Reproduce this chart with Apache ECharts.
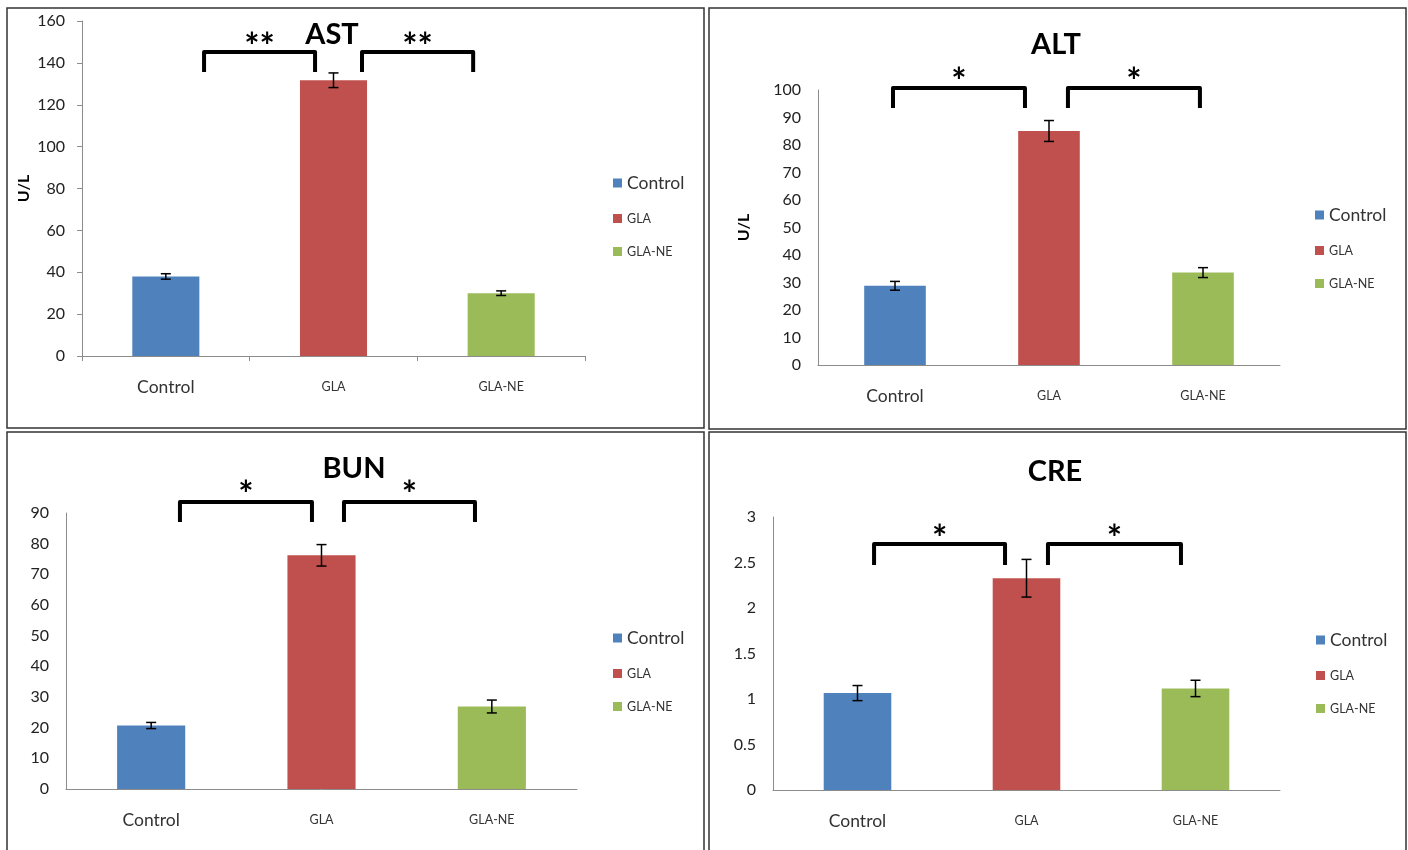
<!DOCTYPE html>
<html><head><meta charset="utf-8">
<script src="https://cdn.jsdelivr.net/npm/echarts/dist/echarts.min.js"></script>
<style>html,body{margin:0;padding:0;background:#fff}#c{width:1408px;height:850px}</style>
</head><body><div id="c"></div>
<script>
// ---- data ----
const categories = ['Control', 'GLA', 'GLA-NE'];
const astValues = [38, 131.7, 30];
const astErrors = [1.3, 3.5, 1.1];
const altValues = [28.8, 85.1, 33.6];
const altErrors = [1.6, 3.8, 1.8];
const bunValues = [20.7, 76.2, 26.9];
const bunErrors = [1.0, 3.5, 2.1];
const creValues = [1.065, 2.327, 1.116];
const creErrors = [0.083, 0.207, 0.09];
const astTicks = [0, 20, 40, 60, 80, 100, 120, 140, 160];
const altTicks = [0, 10, 20, 30, 40, 50, 60, 70, 80, 90, 100];
const bunTicks = [0, 10, 20, 30, 40, 50, 60, 70, 80, 90];
const creTicks = [0, 0.5, 1, 1.5, 2, 2.5, 3];
const astStars = ['**', '**'];
const altStars = ['*', '*'];
const bunStars = ['*', '*'];
const creStars = ['*', '*'];

const colors = ['#4F81BD', '#C0504D', '#9BBB59'];
const FONT = 'Lato, "Open Sans", sans-serif';

const panels = [
  { title: 'AST', values: astValues, errors: astErrors, ticks: astTicks, stars: astStars, yName: 'U/L',
    grid: { left: 82, top: 21, width: 503, height: 335 }, showTicks: true, nameGap: 50,
    titlePos: [332, 35], legendPos: [608, 169], frame: [7, 8, 697, 420],
    brackets: [[0, 0.228, 1, -0.11, 145.2, 135.6, 147.5], [1, 0.17, 2, -0.167, 145.2, 135.6, 147.5]] },
  { title: 'ALT', values: altValues, errors: altErrors, ticks: altTicks, stars: altStars, yName: 'U/L',
    grid: { left: 818, top: 90, width: 462, height: 275 }, showTicks: false, nameGap: 66,
    titlePos: [1056, 45], legendPos: [1310, 201], frame: [709, 8, 697, 421],
    brackets: [[0, -0.013, 1, -0.156, 100.7, 93.5, 102.8], [1, 0.123, 2, -0.02, 100.7, 93.5, 102.8]] },
  { title: 'BUN', values: bunValues, errors: bunErrors, ticks: bunTicks, stars: bunStars, yName: '',
    grid: { left: 66, top: 513, width: 511, height: 276 }, showTicks: false, nameGap: 50,
    titlePos: [354, 469], legendPos: [608, 624], frame: [7, 432, 697, 430],
    brackets: [[0, 0.169, 1, -0.056, 93.6, 87.1, 95.7], [1, 0.132, 2, -0.099, 93.6, 87.1, 95.7]] },
  { title: 'CRE', values: creValues, errors: creErrors, ticks: creTicks, stars: creStars, yName: '',
    grid: { left: 773, top: 517, width: 507, height: 273 }, showTicks: false, nameGap: 50,
    titlePos: [1055, 472], legendPos: [1311, 626], frame: [709, 432, 697, 430],
    brackets: [[0, 0.098, 1, -0.127, 2.703, 2.473, 2.755], [1, 0.127, 2, -0.086, 2.703, 2.473, 2.755]] }
];

const option = {
  animation: false,
  backgroundColor: '#fff',
  grid: [], xAxis: [], yAxis: [], series: [], legend: [], graphic: []
};

const rich = {
  a: { fontSize: 17.5, lineHeight: 18, fontFamily: FONT, color: '#333' },
  b: { fontSize: 12.5, lineHeight: 18, fontFamily: FONT, color: '#333' }
};
const fmt = n => n === 'Control' ? '{a|Control}' : '{b|' + n + '}';

panels.forEach((p, gi) => {
  option.grid.push(Object.assign({ containLabel: false, outerBoundsMode: 'none' }, p.grid));
  option.xAxis.push({
    type: 'category', gridIndex: gi, data: categories,
    axisLine: { show: true, lineStyle: { color: '#8c8c8c', width: 1 } },
    axisTick: { show: p.showTicks, length: 5, lineStyle: { color: '#8c8c8c' } },
    axisLabel: { formatter: fmt, rich: rich, margin: 22, interval: 0 },
    splitLine: { show: false }
  });
  const t = p.ticks;
  option.yAxis.push({
    type: 'value', gridIndex: gi, min: t[0], max: t[t.length - 1], interval: t[1] - t[0],
    name: p.yName, nameLocation: 'middle', nameRotate: 90, nameGap: p.nameGap,
    nameTextStyle: { fontFamily: FONT, fontWeight: 'bold', fontSize: 16, color: '#000' },
    axisLine: { show: true, lineStyle: { color: '#8c8c8c', width: 1 } },
    axisTick: { show: p.showTicks, length: 5, lineStyle: { color: '#8c8c8c' } },
    axisLabel: { fontFamily: FONT, fontSize: 16, color: '#222', margin: 17 },
    splitLine: { show: false }
  });
  categories.forEach((c, ci) => {
    option.series.push({
      type: 'bar', name: c, xAxisIndex: gi, yAxisIndex: gi,
      data: categories.map((_, k) => k === ci ? p.values[k] : '-'),
      barWidth: '40%', barGap: '-100%',
      itemStyle: { color: colors[ci] }, silent: true
    });
  });
  // error bars
  option.series.push({
    type: 'custom', xAxisIndex: gi, yAxisIndex: gi, silent: true, z: 5,
    data: p.values.map((v, i) => [i, v - p.errors[i], v + p.errors[i]]),
    encode: { x: 0, y: [1, 2] },
    renderItem: (params, api) => {
      const x = api.value(0);
      const hi = api.coord([x, api.value(2)]);
      const lo = api.coord([x, api.value(1)]);
      const w = 5;
      const st = { stroke: '#000', lineWidth: 1.5 };
      return { type: 'group', children: [
        { type: 'line', shape: { x1: hi[0], y1: hi[1], x2: lo[0], y2: lo[1] }, style: st },
        { type: 'line', shape: { x1: hi[0] - w, y1: hi[1], x2: hi[0] + w, y2: hi[1] }, style: st },
        { type: 'line', shape: { x1: lo[0] - w, y1: lo[1], x2: lo[0] + w, y2: lo[1] }, style: st }
      ]};
    }
  });
  // significance brackets
  option.series.push({
    type: 'custom', xAxisIndex: gi, yAxisIndex: gi, silent: true, z: 6,
    data: p.brackets,
    encode: { x: 0, y: 4 },
    renderItem: (params, api) => {
      const bw = api.size([1, 0])[0];
      const a = api.coord([api.value(0), api.value(4)]);
      const b = api.coord([api.value(2), api.value(4)]);
      const x0 = a[0] + api.value(1) * bw;
      const x1 = b[0] + api.value(3) * bw;
      const yt = a[1];
      const yb = api.coord([api.value(0), api.value(5)])[1];
      const ys = api.coord([api.value(0), api.value(6)])[1];
      return { type: 'group', children: [
        { type: 'polyline', shape: { points: [[x0, yb], [x0, yt], [x1, yt], [x1, yb]] },
          style: { stroke: '#000', lineWidth: 4, fill: null, lineJoin: 'round' } },
        { type: 'text', x: (x0 + x1) / 2, y: ys,
          style: { text: p.stars[params.dataIndex], fill: '#000', font: 'bold 36px ' + FONT,
                   align: 'center', verticalAlign: 'middle' } }
      ]};
    }
  });
  option.legend.push({
    orient: 'vertical', left: p.legendPos[0], top: p.legendPos[1],
    itemWidth: 9, itemHeight: 9, itemGap: 20, icon: 'rect', selectedMode: false,
    data: categories, formatter: fmt, textStyle: { rich: rich }
  });
  option.graphic.push({
    type: 'rect', silent: true, z: 100,
    shape: { x: p.frame[0], y: p.frame[1], width: p.frame[2], height: p.frame[3] },
    style: { fill: null, stroke: '#333', lineWidth: 1.5 }
  });
  option.graphic.push({
    type: 'text', silent: true, z: 100, x: p.titlePos[0], y: p.titlePos[1],
    style: { text: p.title, fill: '#000', font: 'bold 29px ' + FONT, align: 'center', verticalAlign: 'middle' }
  });
});

const chart = echarts.init(document.getElementById('c'), null, { renderer: 'canvas' });
chart.setOption(option);
</script>
</body></html>
